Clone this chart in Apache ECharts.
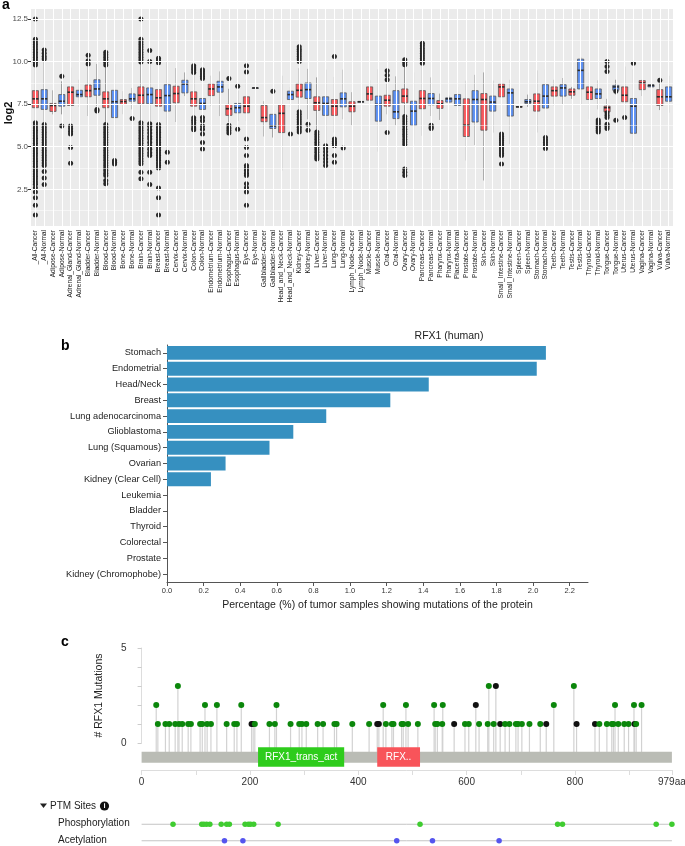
<!DOCTYPE html>
<html>
<head>
<meta charset="utf-8">
<script src="https://cdn.jsdelivr.net/npm/echarts@6/dist/echarts.min.js"></script>
<style>
  html, body { margin: 0; padding: 0; background: #fff; }
  #chart { width: 685px; height: 846px; }
</style>
</head>
<body>
<div id="chart"></div>
<script>
// ---- panel a: RFX1 expression (log2) per tissue ----
const tissues = ['_All-Cancer','_All-Normal','Adipose-Cancer','Adipose-Normal','Adrenal_Gland-Cancer','Adrenal_Gland-Normal',
  'Bladder-Cancer','Bladder-Normal','Blood-Cancer','Blood-Normal','Bone-Cancer','Bone-Normal','Brain-Cancer','Brain-Normal',
  'Breast-Cancer','Breast-Normal','Cervix-Cancer','Cervix-Normal','Colon-Cancer','Colon-Normal','Endometrium-Cancer',
  'Endometrium-Normal','Esophagus-Cancer','Esophagus-Normal','Eye-Cancer','Eye-Normal','Gallbladder-Cancer','Gallbladder-Normal',
  'Head_and_Neck-Cancer','Head_and_Neck-Normal','Kidney-Cancer','Kidney-Normal','Liver-Cancer','Liver-Normal','Lung-Cancer',
  'Lung-Normal','Lymph_Node-Cancer','Lymph_Node-Normal','Muscle-Cancer','Muscle-Normal','Oral-Cancer','Oral-Normal',
  'Ovary-Cancer','Ovary-Normal','Pancreas-Cancer','Pancreas-Normal','Pharynx-Cancer','Pharynx-Normal','Placenta-Normal',
  'Prostate-Cancer','Prostate-Normal','Skin-Cancer','Skin-Normal','Small_Intestine-Cancer','Small_Intestine-Normal',
  'Spleen-Cancer','Spleen-Normal','Stomach-Cancer','Stomach-Normal','Teeth-Cancer','Teeth-Normal','Testis-Cancer',
  'Testis-Normal','Thyroid-Cancer','Thyroid-Normal','Tongue-Cancer','Tongue-Normal','Uterus-Cancer','Uterus-Normal',
  'Vagina-Cancer','Vagina-Normal','Vulva-Cancer','Vulva-Normal'];

// [lower whisker, Q1, median, Q3, upper whisker]
const boxStats = [
  [6.5,7.29,7.81,8.29,9.7],[6.4,7.19,7.81,8.35,10.0],[6.9,7.07,7.42,7.54,8.31],[6.9,7.38,7.67,8.06,8.84],
  [6.5,7.42,8.2,8.51,9.65],[7.34,7.93,8.06,8.31,8.93],[6.8,7.93,8.29,8.62,9.71],[7.38,8.02,8.39,8.93,9.86],
  [6.41,7.29,7.81,8.22,9.71],[4.28,6.71,7.64,8.31,9.86],[6.9,7.48,7.65,7.77,8.26],[7.19,7.67,7.81,8.1,8.45],
  [6.5,7.52,8.02,8.51,9.9],[6.5,7.52,8.06,8.45,9.94],[6.41,7.38,7.87,8.35,9.81],[4.77,7.09,8.0,8.64,10.0],
  [6.45,7.58,8.12,8.55,9.61],[7.97,8.16,8.68,8.9,9.36],[6.76,7.38,7.81,8.22,9.32],[6.8,7.19,7.54,7.83,8.84],
  [7.38,8.0,8.39,8.68,9.17],[6.8,8.2,8.51,8.84,9.42],[6.45,6.84,7.23,7.48,8.4],[6.5,6.99,7.29,7.54,8.3],
  [6.5,6.99,7.38,7.93,9.0],[8.45,8.45,8.45,8.45,8.45],[5.6,6.47,6.71,7.42,7.67],[5.54,6.07,6.22,6.9,6.9],
  [3.6,5.83,6.96,7.46,9.17],[7.34,7.77,8.06,8.26,8.51],[7.19,7.91,8.31,8.68,9.61],[6.61,7.83,8.35,8.74,9.57],
  [5.93,7.13,7.58,7.93,9.07],[5.15,6.84,7.54,7.93,9.52],[5.83,6.84,7.38,7.77,9.1],[6.61,7.34,7.81,8.16,9.52],
  [6.26,7.05,7.38,7.64,8.2],[7.64,7.64,7.64,7.64,7.64],[7.42,7.73,8.1,8.51,8.9],[4.71,6.5,7.48,7.97,9.55],
  [6.9,7.38,7.73,8.02,8.7],[6.26,6.65,7.05,8.29,9.13],[6.9,7.58,7.97,8.39,9.71],[5.12,6.26,7.09,7.67,9.36],
  [5.64,7.23,7.83,8.29,9.75],[6.8,7.46,7.83,8.12,9.07],[6.57,7.25,7.52,7.71,8.12],[7.54,7.62,7.81,7.87,8.0],
  [7.03,7.42,7.81,8.06,8.51],[4.19,5.6,6.26,7.81,8.88],[5.1,6.45,7.77,8.29,9.22],[3.02,5.97,7.77,8.12,9.36],
  [5.83,7.09,7.62,7.97,8.88],[7.67,7.93,8.51,8.68,9.28],[5.15,6.8,8.16,8.39,8.93],[7.3,7.32,7.34,7.36,7.38],
  [7.34,7.54,7.64,7.77,8.06],[5.83,7.09,7.67,8.1,9.48],[5.29,7.27,7.97,8.64,9.55],[7.42,7.97,8.29,8.51,8.93],
  [7.48,7.97,8.45,8.64,9.03],[7.81,8.02,8.22,8.39,8.51],[7.48,8.39,9.48,10.14,10.25],[6.61,7.77,8.2,8.51,9.36],
  [7.19,7.83,8.1,8.39,8.9],[6.9,7.05,7.29,7.38,7.81],[8.06,8.31,8.51,8.6,8.93],[6.67,7.64,8.02,8.51,9.71],
  [4.09,5.79,7.38,7.83,9.55],[7.97,8.35,8.74,8.88,8.93],[8.51,8.51,8.59,8.64,8.64],[7.15,7.42,7.93,8.35,8.74],
  [6.99,7.67,7.93,8.51,9.17]
];

// outlying samples per tissue (same order as tissues)
const outliers = [
  [12.5,11.3,11.15,11,10.85,10.7,10.55,10.4,10.25,10.1,9.95,9.8,6.4,6.25,6.1,5.95,5.8,5.65,5.5,5.35,5.2,5.05,4.9,4.75,4.6,4.45,4.3,4.15,4,3.85,3.7,3.55,3.4,3.25,3.1,2.95,2.8,2.6,2.35,2.0,1.57,0.99],
  [10.68,10.48,10.3,10.15,6.3,6.15,6,5.85,5.7,5.55,5.4,5.25,5.1,4.95,4.8,4.65,4.5,4.35,4.2,4.05,3.9,3.55,3.16,2.79],
  [],
  [9.13,6.22],
  [6.22,6.05,5.9,5.74,4.96,4.03],
  [],
  [10.37,10.04,9.86],
  [7.19,7.09],
  [10.54,10.4,10.25,10.1,9.95,9.8,6.3,6.15,6,5.85,5.7,5.55,5.4,5.25,5.1,4.95,4.8,4.65,4.5,4.35,4.2,4.05,3.9,3.75,3.6,3.45,3.31,3.02,2.83],
  [4.19,4.09,3.99],
  [],
  [6.65],
  [12.5,11.3,11.15,11,10.85,10.7,10.55,10.4,10.25,10.1,9.97,6.4,6.25,6.1,5.95,5.8,5.65,5.5,5.35,5.2,5.05,4.9,4.75,4.6,4.45,4.3,4.15,4,3.51,3.12],
  [10.64,10.0,6.35,6.2,6.0,5.8,5.6,5.45,5.25,5.05,4.85,4.65,4.48,3.51,2.79],
  [10.19,10.05,9.92,6.3,6.15,6,5.85,5.7,5.55,5.4,5.25,5.1,4.95,4.8,4.65,4.5,4.35,4.2,4.05,3.9,3.75,2.58,2.0,0.99],
  [4.67,4.09],
  [],
  [],
  [9.75,9.62,9.5,9.36,6.7,6.55,6.4,6.25,6.1,6.0],
  [9.52,9.4,9.27,9.14,9.0,6.71,6.52,6.22,6.03,5.74,5.25,4.87],
  [],
  [],
  [9.01,6.26,6.1,5.95,5.8],
  [8.55,6.03],
  [9.75,9.38,5.45,4.96,4.48,3.9,3.75,3.6,3.45,3.31,2.83,2.6,2.34,1.57],
  [],
  [],
  [8.26],
  [],
  [5.74],
  [10.87,10.72,10.58,10.44,10.3,10.15,10.0,7.05,6.9,6.75,6.6,6.45,6.3,6.15,6.0,5.87],
  [6.32,5.97],
  [5.87,5.72,5.57,5.42,5.27,5.12,4.97,4.82,4.67,4.52,4.4,4.28],
  [5.06,4.9,4.7,4.5,4.3,4.1,3.9],
  [10.29,5.45,5.3,5.2,5.06,4.48,4.09],
  [4.92],
  [],
  [],
  [],
  [],
  [9.46,9.19,8.93,5.83],
  [],
  [10.1,9.95,9.81,6.78,6.63,6.48,6.33,6.18,6.03,5.88,5.73,5.58,5.43,5.28,5.13,3.7,3.5,3.31],
  [],
  [11.07,10.92,10.77,10.62,10.47,10.32,10.17,10.03,9.9],
  [6.26,6.15,6.07],
  [], [], [], [], [], [], [],
  [5.75,5.62,5.5,5.38,5.25,5.12,5.0,4.88,4.75,4.62,4.48,3.99],
  [], [], [], [],
  [5.54,5.4,5.25,5.1,4.9],
  [], [], [], [], [],
  [6.57,6.45,6.33,6.2,6.08,5.97,5.87],
  [10.0,9.71,9.42,6.99,6.85,6.71,6.32,6.2,6.07],
  [8.26,6.55],
  [6.71],
  [9.9],
  [],
  [],
  [8.9],
  [],
  []
];
const log2Ticks = [2.5, 5, 7.5, 10, 12.5];
const log2Minor = [1.25, 3.75, 6.25, 8.75, 11.25];

// ---- panel b: % of tumour samples with RFX1 mutations ----
const cancerTypes = ['Stomach','Endometrial','Head/Neck','Breast','Lung adenocarcinoma','Glioblastoma','Lung (Squamous)',
  'Ovarian','Kidney (Clear Cell)','Leukemia','Bladder','Thyroid','Colorectal','Prostate','Kidney (Chromophobe)'];
const mutPercent = [2.07, 2.02, 1.43, 1.22, 0.87, 0.69, 0.56, 0.32, 0.24, 0, 0, 0, 0, 0, 0];

// ---- panel c: lollipop of mutations along the protein ----
const proteinLength = 979;
const mutPos =   [27,30,44,51,62,67,69,75,86,91,108,112,117,121,128,139,157,171,176,184,203,206,209,236,246,249,275,291,296,304,
  325,335,356,360,389,420,435,438,446,451,462,465,480,483,488,492,510,540,542,546,555,556,577,597,604,617,623,639,641,650,
  654,662,671,679,691,695,702,716,736,747,761,798,803,837,845,859,868,871,874,880,891,899,909,910,913,923];
const mutCount = [2,1,1,1,1,3,1,1,1,1,1,1,2,1,1,2,1,1,1,2,1,1,1,1,1,2,1,1,1,1,
  1,1,1,1,1,1,1,1,2,1,1,1,1,1,2,1,1,2,1,1,1,2,1,1,1,2,1,1,3,1,
  3,1,1,1,1,1,1,1,1,1,2,3,1,1,1,1,1,1,2,1,1,1,2,1,1,2];
const mutKind =  ['m','m','m','m','m','m','m','m','m','m','m','m','m','m','m','m','m','m','m','m','t','t','m','m','m','m','m','m','m','m',
  'm','m','m','m','m','m','t','t','m','m','m','m','m','m','m','m','m','m','m','m','m','m','t','m','m','t','m','m','m','m',
  't','t','m','m','m','m','m','m','m','t','m','m','t','t','m','m','m','m','m','m','m','m','m','t','m','m'];
const domainNames = ['RFX1_trans_act', 'RFX..'];
const domainStart = [215, 435];
const domainEnd = [374, 514];
const phosphoSites = [58, 111, 115, 120, 126, 147, 157, 162, 191, 197, 201, 207, 252, 514, 768, 777, 950, 979];
const acetylSites = [153, 187, 471, 537, 660];

const FONT = '"Liberation Sans", Arial, Helvetica, sans-serif';
const RED = '#f8585c', BLUE = '#5b8ff2';

const chart = echarts.init(document.getElementById('chart'));

function txt(x, y, text, o) {
  o = o || {};
  return {
    type: 'text', x: x, y: y, silent: true, rotation: o.rotation || 0,
    style: {
      text: text, fill: o.color || '#222', fontSize: o.size || 10, fontWeight: o.weight || 'normal',
      fontFamily: FONT, align: o.align || 'left', verticalAlign: o.valign || 'middle'
    }
  };
}

// white ggplot-style grid lines for panel a
const gridLines = tissues.map(t => ({ xAxis: t }))
  .concat(log2Ticks.map(v => ({ yAxis: v })))
  .concat(log2Minor.map(v => ({ yAxis: v, lineStyle: { width: 0.5 } })));

const option = {
  animation: false,
  textStyle: { fontFamily: FONT },
  grid: [
    { left: 31, top: 9, width: 642, height: 217, show: true, backgroundColor: '#ebebeb', borderWidth: 0, outerBoundsMode: 'none' },
    { left: 167, top: 345, width: 421, height: 237, outerBoundsMode: 'none' },
    { left: 141.6, top: 648, width: 530.3, height: 95, outerBoundsMode: 'none' },
    { left: 141.6, top: 743, width: 530.3, height: 27, outerBoundsMode: 'none' },
    { left: 141.6, top: 816, width: 530.3, height: 33, outerBoundsMode: 'none' }
  ],
  xAxis: [
    {
      gridIndex: 0, type: 'category', data: tissues,
      axisLine: { show: false },
      axisTick: { alignWithLabel: true, length: 3, lineStyle: { color: '#333' } },
      axisLabel: { interval: 0, rotate: 90, fontSize: 6.6, color: '#1a1a1a', margin: 4 },
      splitLine: { show: false }
    },
    {
      gridIndex: 1, type: 'value', min: 0, max: 2.3, interval: 0.2,
      axisLine: { show: true, lineStyle: { color: '#555' } },
      axisTick: { show: true, length: 4, lineStyle: { color: '#555' } },
      axisLabel: { fontSize: 7.5, color: '#333', margin: 5, showMaxLabel: false, formatter: v => v.toFixed(1) },
      splitLine: { show: false },
      name: 'Percentage (%) of tumor samples showing mutations of the protein',
      nameLocation: 'middle', nameGap: 18, nameTextStyle: { fontSize: 10.5, color: '#222' }
    },
    { gridIndex: 2, type: 'value', min: 0, max: proteinLength, show: false },
    {
      gridIndex: 3, type: 'value', min: 0, max: proteinLength, interval: 100,
      axisLine: { show: true, lineStyle: { color: '#ddd' } },
      axisTick: { show: true, length: 5, lineStyle: { color: '#ddd' } },
      axisLabel: {
        fontSize: 10, color: '#333', margin: 7, showMaxLabel: true,
        formatter: v => v === proteinLength ? v + 'aa' : (v % 200 === 0 ? String(v) : '')
      },
      splitLine: { show: false }
    },
    { gridIndex: 4, type: 'value', min: 0, max: proteinLength, show: false }
  ],
  yAxis: [
    {
      gridIndex: 0, type: 'value', min: 0.35, max: 13.08,
      axisLine: { show: false },
      axisTick: { show: true, length: 3, lineStyle: { color: '#333' }, customValues: log2Ticks },
      axisLabel: { customValues: log2Ticks, fontSize: 8, color: '#4d4d4d', margin: 3, formatter: v => v.toFixed(1) },
      splitLine: { show: false }
    },
    {
      gridIndex: 1, type: 'category', data: cancerTypes, inverse: true,
      axisLine: { show: true, lineStyle: { color: '#555' } },
      axisTick: { show: true, alignWithLabel: true, length: 4, lineStyle: { color: '#555' } },
      axisLabel: { fontSize: 9.2, color: '#222', margin: 6 }
    },
    {
      gridIndex: 2, type: 'value', min: 0, max: 5, interval: 1, offset: 9,
      axisLine: { show: true, lineStyle: { color: '#ddd' } },
      axisTick: { show: true, length: 4, lineStyle: { color: '#ccc' } },
      axisLabel: { fontSize: 10, color: '#333', margin: 6, formatter: v => (v === 0 || v === 5) ? String(v) : '' },
      splitLine: { show: false },
      name: '# RFX1 Mutations', nameLocation: 'middle', nameGap: 28,
      nameTextStyle: { fontSize: 10.5, color: '#222' }
    },
    { gridIndex: 3, type: 'value', min: 0, max: 1, show: false },
    { gridIndex: 4, type: 'category', data: ['Phosphorylation', 'Acetylation'], inverse: true, show: false }
  ],
  series: [
    {
      // carrier for the white grid lines
      type: 'line', xAxisIndex: 0, yAxisIndex: 0, data: [], silent: true, z: 1,
      markLine: {
        silent: true, symbol: ['none', 'none'], label: { show: false },
        lineStyle: { color: '#ffffff', width: 1.1, type: 'solid' },
        emphasis: { disabled: true },
        data: gridLines
      }
    },
    {
      type: 'custom', xAxisIndex: 0, yAxisIndex: 0, z: 3,
      data: boxStats.map((s, i) => [i].concat(s)),
      encode: { x: 0, y: [1, 2, 3, 4, 5] },
      renderItem: function (params, api) {
        const i = api.value(0);
        const half = api.size([1, 0])[0] * 0.35;
        const lo = api.coord([i, api.value(1)]);
        const q1 = api.coord([i, api.value(2)]);
        const md = api.coord([i, api.value(3)]);
        const q3 = api.coord([i, api.value(4)]);
        const hi = api.coord([i, api.value(5)]);
        const fill = tissues[i].endsWith('Cancer') ? RED : BLUE;
        return {
          type: 'group',
          children: [
            { type: 'line', shape: { x1: lo[0], y1: lo[1], x2: q1[0], y2: q1[1] }, style: { stroke: '#7a7a7a', lineWidth: 1 } },
            { type: 'line', shape: { x1: q3[0], y1: q3[1], x2: hi[0], y2: hi[1] }, style: { stroke: '#7a7a7a', lineWidth: 1 } },
            { type: 'rect', shape: { x: q3[0] - half, y: q3[1], width: half * 2, height: Math.max(q1[1] - q3[1], 0.5) },
              style: { fill: fill, stroke: '#5a5a5a', lineWidth: 0.8 } },
            { type: 'line', shape: { x1: md[0] - half, y1: md[1], x2: md[0] + half, y2: md[1] }, style: { stroke: '#2a2a2a', lineWidth: 1.6 } }
          ]
        };
      }
    },
    {
      type: 'scatter', xAxisIndex: 0, yAxisIndex: 0, z: 4, symbolSize: 5,
      itemStyle: { color: '#262626', opacity: 1, borderWidth: 0 },
      data: outliers.flatMap((arr, i) => arr.map(v => [i, v]))
    },
    {
      type: 'bar', xAxisIndex: 1, yAxisIndex: 1, data: mutPercent,
      barCategoryGap: '12%', itemStyle: { color: '#3690c0' }
    },
    {
      // lollipop stems
      type: 'custom', xAxisIndex: 2, yAxisIndex: 2, z: 2,
      data: mutPos.map((p, i) => [p, mutCount[i]]),
      encode: { x: 0, y: 1 },
      renderItem: function (params, api) {
        const top = api.coord([api.value(0), api.value(1)]);
        const base = api.coord([api.value(0), 0]);
        return { type: 'line', shape: { x1: top[0], y1: top[1], x2: base[0], y2: base[1] + 9 },
          style: { stroke: '#d2d2d2', lineWidth: 1.2 } };
      }
    },
    {
      type: 'scatter', xAxisIndex: 2, yAxisIndex: 2, z: 5, symbolSize: 6,
      data: mutPos.map((p, i) => ({ value: [p, mutCount[i]], itemStyle: { opacity: 1, borderWidth: 0, color: mutKind[i] === 't' ? '#111111' : '#0b870b' } }))
    },
    {
      // protein backbone
      type: 'custom', xAxisIndex: 3, yAxisIndex: 3, z: 3,
      data: [[0, proteinLength]],
      renderItem: function (params, api) {
        const a = api.coord([api.value(0), 0.68]);
        const b = api.coord([api.value(1), 0.27]);
        return { type: 'rect', shape: { x: a[0], y: a[1], width: b[0] - a[0], height: b[1] - a[1] }, style: { fill: '#babcb5' } };
      }
    },
    {
      // domains
      type: 'custom', xAxisIndex: 3, yAxisIndex: 3, z: 4,
      data: domainStart.map((s, i) => [s, domainEnd[i], i]),
      renderItem: function (params, api) {
        const k = api.value(2);
        const a = api.coord([api.value(0), 0.84]);
        const b = api.coord([api.value(1), 0.12]);
        return {
          type: 'rect', shape: { x: a[0], y: a[1], width: b[0] - a[0], height: b[1] - a[1] },
          style: { fill: k === 0 ? '#2ecc1c' : '#f8545a' },
          textContent: { style: { text: domainNames[k], fill: '#ffffff', fontSize: 10, fontFamily: FONT } },
          textConfig: { position: 'inside' }
        };
      }
    },
    {
      // PTM tracks
      type: 'custom', xAxisIndex: 4, yAxisIndex: 4, z: 2,
      data: [[0, proteinLength, 0], [0, proteinLength, 1]],
      renderItem: function (params, api) {
        const a = api.coord([api.value(0), api.value(2)]);
        const b = api.coord([api.value(1), api.value(2)]);
        return { type: 'line', shape: { x1: a[0], y1: a[1], x2: b[0], y2: b[1] }, style: { stroke: '#c4c4c4', lineWidth: 1 } };
      }
    },
    {
      type: 'scatter', xAxisIndex: 4, yAxisIndex: 4, z: 4, symbolSize: 5.5,
      itemStyle: { color: '#3fcc30', opacity: 1 },
      data: phosphoSites.map(p => [p, 'Phosphorylation'])
    },
    {
      type: 'scatter', xAxisIndex: 4, yAxisIndex: 4, z: 4, symbolSize: 5.5,
      itemStyle: { color: '#5555ee', opacity: 1 },
      data: acetylSites.map(p => [p, 'Acetylation'])
    }
  ],
  graphic: [
    txt(2, 5, 'a', { size: 14, weight: 'bold', color: '#000' }),
    txt(9, 113, 'log2', { size: 11, weight: 'bold', color: '#111', align: 'center', rotation: Math.PI / 2 }),
    txt(61, 346, 'b', { size: 14, weight: 'bold', color: '#000' }),
    txt(61, 642, 'c', { size: 14, weight: 'bold', color: '#000' }),
    txt(449, 336, 'RFX1 (human)', { size: 10.5, align: 'center' }),
    { type: 'polygon', silent: true, shape: { points: [[40, 803.5], [47, 803.5], [43.5, 808]] }, style: { fill: '#222' } },
    txt(50, 806, 'PTM Sites', { size: 10 }),
    { type: 'circle', silent: true, shape: { cx: 104.5, cy: 806, r: 4.6 }, style: { fill: '#111' } },
    txt(104.5, 806.3, 'i', { size: 7.5, weight: 'bold', color: '#fff', align: 'center' }),
    txt(58, 823, 'Phosphorylation', { size: 10 }),
    txt(58, 840, 'Acetylation', { size: 10 })
  ]
};

chart.setOption(option);
</script>
</body>
</html>
